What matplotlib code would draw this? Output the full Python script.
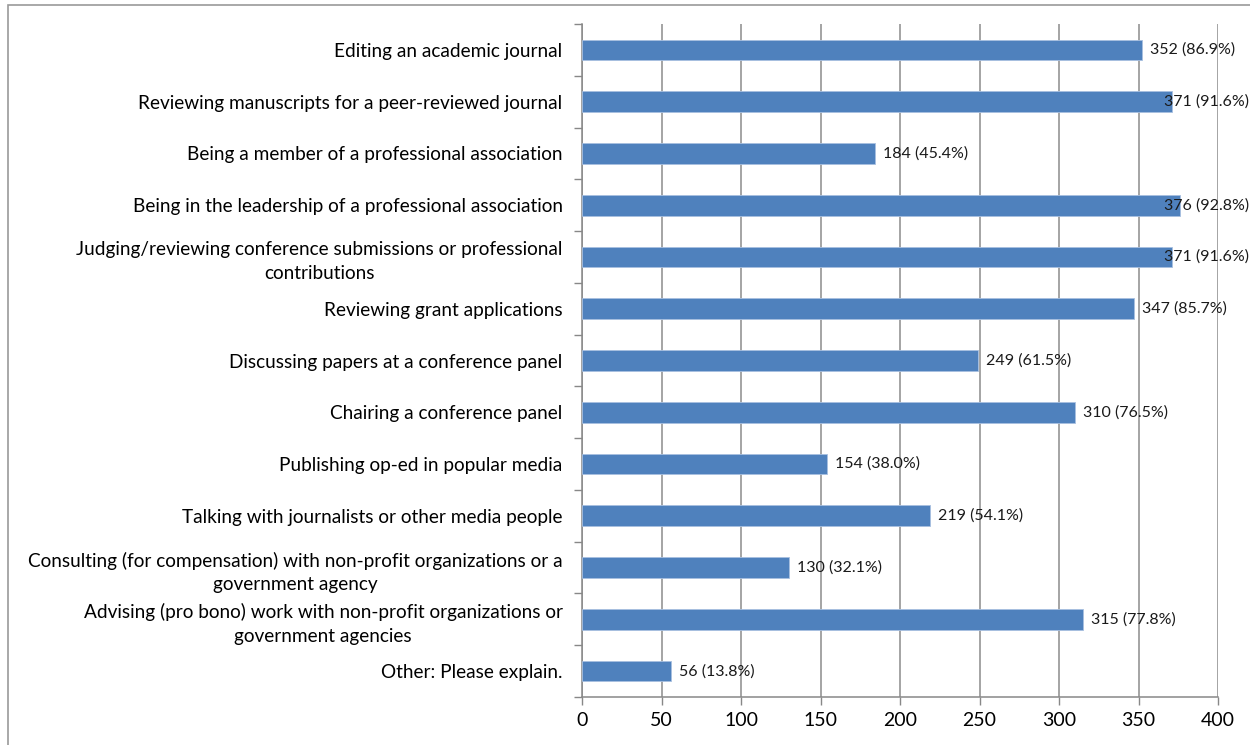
import matplotlib
matplotlib.use("Agg")
import matplotlib.pyplot as plt
from matplotlib.patches import Rectangle

categories = [
    "Editing an academic journal",
    "Reviewing manuscripts for a peer-reviewed journal",
    "Being a member of a professional association",
    "Being in the leadership of a professional association",
    "Judging/reviewing conference submissions or professional\ncontributions",
    "Reviewing grant applications",
    "Discussing papers at a conference panel",
    "Chairing a conference panel",
    "Publishing op-ed in popular media",
    "Talking with journalists or other media people",
    "Consulting (for compensation) with non-profit organizations or a\ngovernment agency",
    "Advising (pro bono) work with non-profit organizations or\ngovernment agencies",
    "Other: Please explain.",
]
counts = [352, 371, 184, 376, 371, 347, 249, 310, 154, 219, 130, 315, 56]
percents = [86.9, 91.6, 45.4, 92.8, 91.6, 85.7, 61.5, 76.5, 38.0, 54.1, 32.1, 77.8, 13.8]
xticks = [0, 50, 100, 150, 200, 250, 300, 350, 400]

plt.rcParams['font.family'] = ['Lato', 'DejaVu Sans']

fig = plt.figure(figsize=(12.5, 7.45), dpi=100)
ax = fig.add_axes([582 / 1250, 48 / 745, 636 / 1250, 673 / 745])

# frame around the whole chart
fig.patches.append(Rectangle((8 / 1250, -0.01), 1.1, 1 - 5 / 745 + 0.01,
                             transform=fig.transFigure, fill=False,
                             edgecolor='#9a9a9a', linewidth=1.2))

pos = list(range(len(categories)))
ax.barh(pos, counts, height=0.4, color='#4f81bd', edgecolor='#a8c0e0',
        linewidth=0.6, zorder=3)

for y, c, p in zip(pos, counts, percents):
    ax.text(min(c + 5, 366), y, f"{c} ({p:.1f}%)", va='center', ha='left',
            fontsize=11.5, color='#1a1a1a', zorder=4)

ax.set_ylim(len(categories) - 0.5, -0.5)
ax.set_xlim(0, 400)
ax.set_xticks(xticks)
ax.set_xticklabels([str(t) for t in xticks], fontsize=14)
ax.set_yticks(pos)
ax.set_yticklabels(categories, fontsize=13.7, multialignment='center',
                   linespacing=1.45)
ax.set_yticks([i - 0.5 for i in range(len(categories) + 1)], minor=True)
ax.tick_params(axis='y', which='major', length=0, pad=14)
ax.tick_params(axis='y', which='minor', length=6, color='#888888', width=1)
ax.tick_params(axis='x', length=6, color='#888888', width=1, pad=5)

ax.grid(axis='x', color='#8c8c8c', linewidth=1.1, zorder=0)
for side in ['top', 'right']:
    ax.spines[side].set_visible(False)
for side in ['left', 'bottom']:
    ax.spines[side].set_color('#888888')
    ax.spines[side].set_linewidth(1.1)

fig.savefig("out.png", dpi=100)
